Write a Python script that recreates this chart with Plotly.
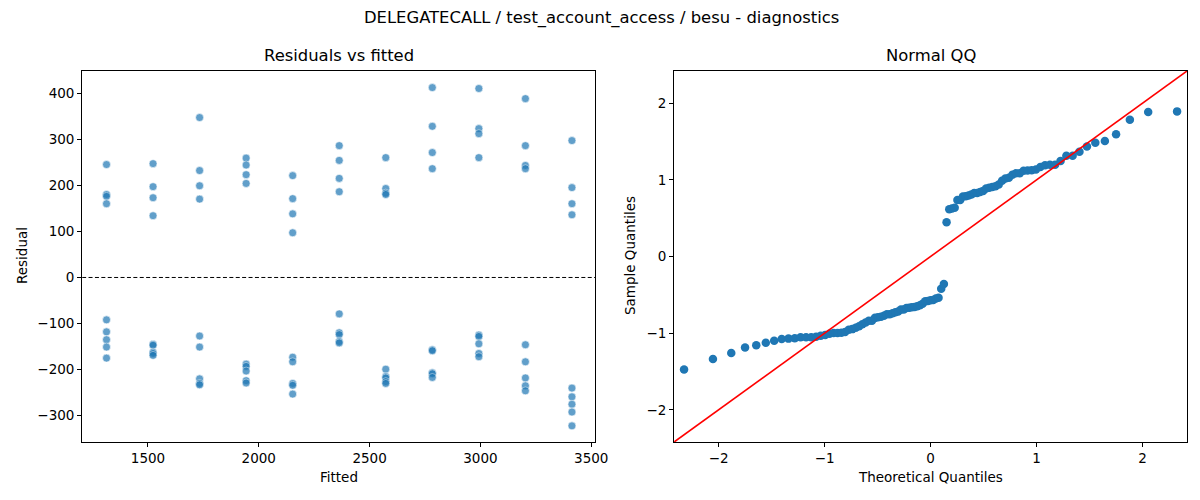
from statistics import NormalDist

import numpy as np
import plotly.graph_objects as go

# === Data ===
fitted_levels = [1313, 1523, 1733, 1943, 2153, 2363, 2573, 2783, 2993, 3203, 3413]

# residuals per fitted level (4 above zero, 5 below)
residuals_by_level = [
    [245, 180, 176, 160, -92, -118, -135, -151, -175],
    [247, 197, 173, 134, -145, -147, -162, -165, -169],
    [347, 232, 199, 170, -127, -151, -220, -230, -233],
    [259, 244, 223, 204, -188, -193, -203, -224, -229],
    [221, 171, 138, 97, -173, -183, -230, -234, -253],
    [286, 254, 215, 186, -79, -120, -124, -139, -142],
    [260, 193, 183, 180, -199, -215, -218, -226, -230],
    [412, 328, 271, 236, -157, -159, -207, -209, -217],
    [410, 323, 312, 260, -125, -128, -144, -165, -172],
    [388, 286, 243, 236, -146, -183, -218, -235, -246],
    [297, 195, 160, 136, -240, -259, -275, -292, -322],
]

resid_ticks = [-300, -200, -100, 0, 100, 200, 300, 400]
fitted_ticks = [1500, 2000, 2500, 3000, 3500]
qq_ticks = [-2, -1, 0, 1, 2]

title = "DELEGATECALL / test_account_access / besu - diagnostics"

fitted = []
resid = []
for lvl, vals in zip(fitted_levels, residuals_by_level):
    fitted += [lvl] * len(vals)
    resid += vals
resid = np.array(resid, dtype=float)

# === QQ: standardised residuals vs normal quantiles (plotting pos i/(n+1)) ===
n = len(resid)
sample_q = np.sort((resid - resid.mean()) / resid.std())
theo_q = np.array([NormalDist().inv_cdf(i / (n + 1)) for i in range(1, n + 1)])

blue = "#1f77b4"
font = dict(family="DejaVu Sans", size=13.5, color="black")

# the page shows a little narrower than 1200px, so positions are laid out on 1185
W, H = 1185, 500


def minus(v):
    return str(v).replace("-", "\u2212")


fig = go.Figure()

fig.add_trace(go.Scatter(
    x=fitted, y=resid, mode="markers",
    marker=dict(color=blue, size=8, opacity=0.7, line=dict(color="white", width=0.6)),
    xaxis="x", yaxis="y", showlegend=False,
))

fig.add_trace(go.Scatter(
    x=[1203, 3517], y=[0, 0], mode="lines",
    line=dict(color="black", width=1, dash="4px,2.4px"),
    xaxis="x", yaxis="y", showlegend=False,
))

fig.add_trace(go.Scatter(
    x=theo_q, y=sample_q, mode="markers",
    marker=dict(color=blue, size=8.5),
    xaxis="x2", yaxis="y2", showlegend=False,
))

fig.add_trace(go.Scatter(
    x=[-2.42, 2.42], y=[-2.42, 2.42], mode="lines",
    line=dict(color="red", width=1.6),
    xaxis="x2", yaxis="y2", showlegend=False,
))

axis_style = dict(
    showline=True, mirror=True, linecolor="black", linewidth=1,
    ticks="outside", ticklen=4, tickcolor="black", tickwidth=1,
    showgrid=False, zeroline=False, tickfont=font,
)

fig.update_layout(
    width=1200, height=H, autosize=False,
    margin=dict(l=0, r=0, t=0, b=0),
    paper_bgcolor="white", plot_bgcolor="white",
    font=font,
    xaxis=dict(domain=[82 / W, 594 / W], range=[1203, 3517],
               tickvals=fitted_ticks, **axis_style),
    yaxis=dict(domain=[58 / H, 429 / H], range=[-357, 448],
               tickvals=resid_ticks, ticktext=[minus(v) for v in resid_ticks], **axis_style),
    xaxis2=dict(domain=[673 / W, 1185 / W], range=[-2.42, 2.42],
                tickvals=qq_ticks, ticktext=[minus(v) for v in qq_ticks],
                anchor="y2", **axis_style),
    yaxis2=dict(domain=[58 / H, 429 / H], range=[-2.42, 2.42],
                tickvals=qq_ticks, ticktext=[minus(v) for v in qq_ticks],
                anchor="x2", **axis_style),
)


def label(text, x, y, size=13.5, angle=0):
    fig.add_annotation(text=text, x=x / W, y=1 - y / H, xref="paper", yref="paper",
                       showarrow=False, textangle=angle, xanchor="center", yanchor="middle",
                       font=dict(family="DejaVu Sans", size=size, color="black"))


label(title, 600, 18, size=16.4)
label("Residuals vs fitted", 338, 56, size=16.4)
label("Normal QQ", 929, 56, size=16.4)
label("Fitted", 338, 477)
label("Residual", 22, 256, angle=-90)
label("Theoretical Quantiles", 929, 477)
label("Sample Quantiles", 629, 256, angle=-90)

# no page margin or scrollbars, so the figure sits at the window's corner
fig.write_html(
    "out.html",
    config={"displayModeBar": False, "responsive": False},
    post_script="document.body.style.margin='0px';document.body.style.overflow='hidden';",
)
